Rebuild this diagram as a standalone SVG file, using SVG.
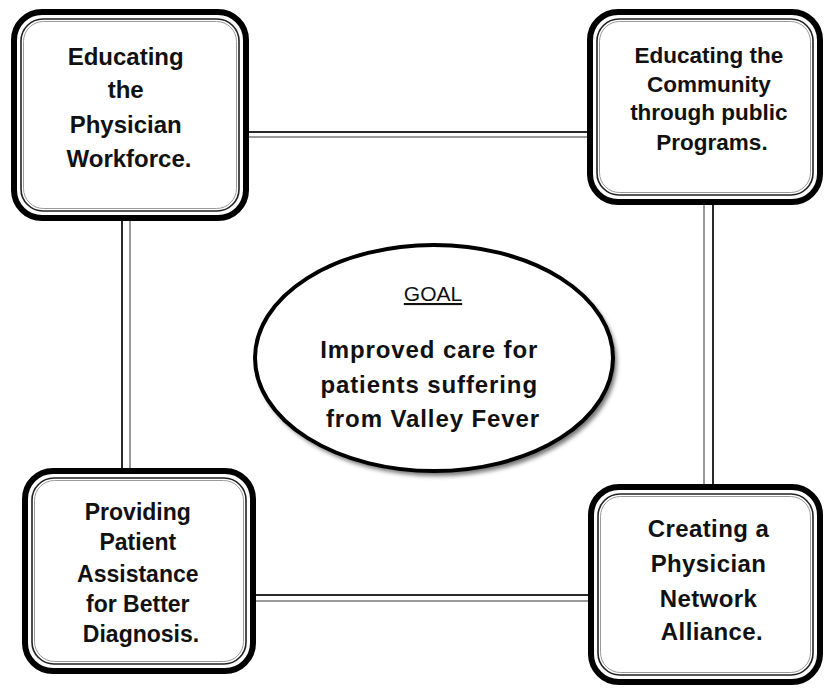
<svg xmlns="http://www.w3.org/2000/svg" width="828" height="688" viewBox="0 0 828 688">
  <defs>
    <style>
      .frame { fill: #ffffff; stroke: #000000; stroke-width: 6; }
      .inner { fill: none; stroke: #222222; stroke-width: 1.6; }
      .inner2 { fill: none; stroke: #9a9a9a; stroke-width: 1; }
      .dark { stroke: #2a2a2a; stroke-width: 2; fill: none; }
      .light { stroke: #9a9a9a; stroke-width: 2; fill: none; }
      .lbl { font-family: "Liberation Sans", Arial, sans-serif; font-weight: bold; fill: #111111; text-anchor: middle; }
      .goal { font-family: "Liberation Sans", Arial, sans-serif; font-size: 21px; fill: #111111; text-anchor: middle; text-decoration: underline; }
    </style>
    <filter id="soft" x="-10%" y="-10%" width="120%" height="120%">
      <feGaussianBlur stdDeviation="2"/>
    </filter>
  </defs>
  <rect width="828" height="688" fill="#ffffff"/>

  <!-- double-line links between the four boxes -->
  <g id="connectors">
    <line class="dark" x1="246" y1="132" x2="592" y2="132"/>
    <line class="light" x1="246" y1="137" x2="592" y2="137"/>
    <line class="dark" x1="122" y1="218" x2="122" y2="471"/>
    <line class="light" x1="130" y1="218" x2="130" y2="471"/>
    <line class="light" x1="704" y1="202" x2="704" y2="488"/>
    <line class="dark" x1="713" y1="202" x2="713" y2="488"/>
    <line class="dark" x1="253" y1="595" x2="592" y2="595"/>
    <line class="light" x1="253" y1="601" x2="592" y2="601"/>
  </g>

  <g id="box-physician-workforce">
    <rect class="frame" x="14" y="12" width="232" height="206" rx="28"/>
    <rect class="inner" x="21" y="19" width="218" height="192" rx="22"/>
    <rect class="inner2" x="23.5" y="21.5" width="213" height="187" rx="20"/>
    <text class="lbl" font-size="24" x="129">
      <tspan x="129" y="65">Educating</tspan>
      <tspan x="129" y="98">the</tspan>
      <tspan x="129" y="133">Physician</tspan>
      <tspan x="129" y="167">Workforce.</tspan>
    </text>
  </g>

  <g id="box-community">
    <rect class="frame" x="590" y="12" width="230" height="190" rx="28"/>
    <rect class="inner" x="597" y="19" width="216" height="176" rx="22"/>
    <rect class="inner2" x="599.5" y="21.5" width="211" height="171" rx="20"/>
    <text class="lbl" font-size="22.5" x="712">
      <tspan x="712" y="63">Educating the</tspan>
      <tspan x="712" y="92">Community</tspan>
      <tspan x="712" y="120">through public</tspan>
      <tspan x="712" y="150">Programs.</tspan>
    </text>
  </g>

  <g id="box-patient-assistance">
    <rect class="frame" x="25" y="471" width="228" height="200" rx="28"/>
    <rect class="inner" x="32" y="478" width="214" height="186" rx="22"/>
    <rect class="inner2" x="34.5" y="480.5" width="209" height="181" rx="20"/>
    <text class="lbl" font-size="23" x="141">
      <tspan x="141" y="520">Providing</tspan>
      <tspan x="141" y="550">Patient</tspan>
      <tspan x="141" y="582">Assistance</tspan>
      <tspan x="141" y="612">for Better</tspan>
      <tspan x="141" y="642">Diagnosis.</tspan>
    </text>
  </g>

  <g id="box-network-alliance">
    <rect class="frame" x="591" y="487" width="229" height="195" rx="28"/>
    <rect class="inner" x="598" y="494" width="215" height="181" rx="22"/>
    <rect class="inner2" x="600.5" y="496.5" width="210" height="176" rx="20"/>
    <text class="lbl" font-size="24" letter-spacing="0.4" x="712">
      <tspan x="712" y="537">Creating a</tspan>
      <tspan x="712" y="572">Physician</tspan>
      <tspan x="712" y="607">Network</tspan>
      <tspan x="712" y="640">Alliance.</tspan>
    </text>
  </g>

  <g id="goal">
    <ellipse cx="437" cy="362" rx="180" ry="114" fill="#777777" filter="url(#soft)"/>
    <ellipse cx="434" cy="358" rx="179" ry="113" fill="#ffffff" stroke="#000000" stroke-width="4"/>
    <text class="goal" x="433" y="301">GOAL</text>
    <text class="lbl" font-size="24" letter-spacing="0.9" x="433">
      <tspan x="433" y="358">Improved care for</tspan>
      <tspan x="433" y="393">patients suffering</tspan>
      <tspan x="433" y="427">from Valley Fever</tspan>
    </text>
  </g>
</svg>
